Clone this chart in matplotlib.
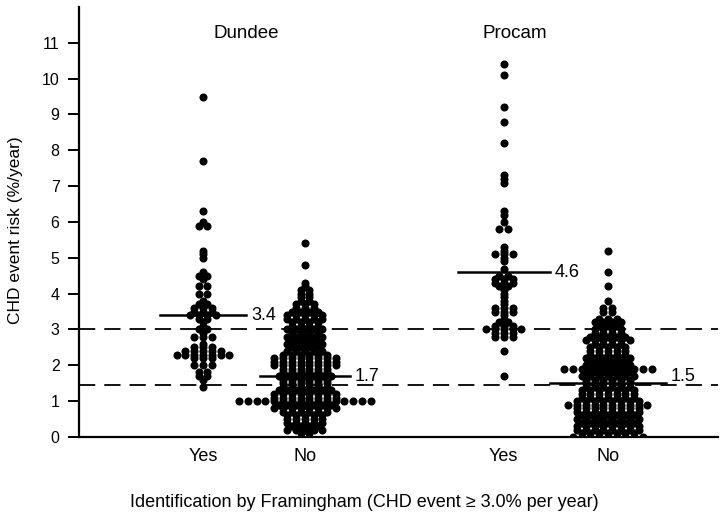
import numpy as np
import matplotlib
matplotlib.use("Agg")
import matplotlib.pyplot as plt

plt.rcParams['font.family'] = ['Liberation Sans', 'DejaVu Sans']

# Données : niveaux de risque (%/an) et nombre de points par niveau
dundee_yes_levels = [9.5, 7.7, 6.3, 6.0, 5.9, 5.2, 5.1, 5.0, 4.6, 4.5, 4.4, 4.2, 4.0, 3.8, 3.7,
                     3.6, 3.5, 3.4, 3.3, 3.2, 3.1, 3.0, 2.9, 2.8, 2.6, 2.5, 2.4, 2.3, 2.2, 2.0,
                     1.8, 1.7, 1.6, 1.4]
dundee_yes_counts = [1, 1, 1, 1, 2, 1, 1, 1, 1, 2, 1, 2, 2, 1, 2,
                     3, 3, 4, 2, 1, 1, 2, 1, 3, 1, 3, 5, 7, 3, 3,
                     2, 2, 1, 1]

dundee_no_levels = [5.4, 4.8, 4.3, 4.2, 4.1, 4.0, 3.9, 3.8, 3.7, 3.6, 3.5, 3.4, 3.3, 3.2, 3.1,
                    3.0, 2.9, 2.8, 2.7, 2.6, 2.5, 2.4, 2.3, 2.2, 2.1, 2.0, 1.9, 1.8, 1.7, 1.6,
                    1.5, 1.4, 1.3, 1.2, 1.1, 1.0, 0.9, 0.8, 0.7, 0.6, 0.5, 0.4, 0.3, 0.2, 0.1]
dundee_no_counts = [1, 1, 1, 1, 2, 2, 2, 2, 3, 3, 4, 5, 5, 4, 4,
                    5, 4, 5, 4, 5, 4, 5, 6, 8, 8, 8, 6, 6, 7, 6,
                    6, 6, 7, 8, 8, 16, 7, 8, 6, 5, 5, 5, 4, 5, 2]

procam_yes_levels = [10.4, 10.1, 9.2, 8.8, 8.2, 7.3, 7.2, 7.1, 6.3, 6.2, 6.0, 5.8, 5.3, 5.2, 5.1,
                     5.0, 4.9, 4.7, 4.5, 4.4, 4.3, 4.2, 4.1, 4.0, 3.9, 3.8, 3.7, 3.6, 3.5, 3.4,
                     3.3, 3.2, 3.1, 3.0, 2.9, 2.8, 2.4, 1.7]
procam_yes_counts = [1, 1, 1, 1, 1, 1, 1, 1, 1, 1, 1, 2, 1, 1, 3,
                     1, 1, 1, 2, 3, 3, 2, 1, 1, 1, 1, 1, 3, 3, 1,
                     1, 2, 3, 5, 3, 3, 1, 1]

procam_no_levels = [5.2, 4.6, 4.2, 3.8, 3.6, 3.5, 3.3, 3.2, 3.1, 3.0, 2.9, 2.8, 2.7, 2.6, 2.5,
                    2.4, 2.3, 2.2, 2.1, 2.0, 1.9, 1.8, 1.7, 1.6, 1.5, 1.4, 1.3, 1.2, 1.1, 1.0,
                    0.9, 0.8, 0.7, 0.6, 0.5, 0.4, 0.3, 0.2, 0.1, 0.0]
procam_no_counts = [1, 1, 1, 1, 2, 2, 3, 4, 3, 4, 4, 5, 6, 4, 5,
                    5, 5, 6, 5, 6, 11, 6, 7, 6, 6, 6, 7, 7, 7, 8,
                    10, 8, 8, 7, 8, 7, 8, 8, 7, 9]

group_means = [3.4, 1.7, 4.6, 1.5]
group_labels = ["Yes", "No", "Yes", "No"]
study_names = ["Dundee", "Procam"]
seuils = [3.0, 1.45]

groupes = [(dundee_yes_levels, dundee_yes_counts),
           (dundee_no_levels, dundee_no_counts),
           (procam_yes_levels, procam_yes_counts),
           (procam_no_levels, procam_no_counts)]

positions = [1.0, 2.0, 3.95, 4.97]
demi_largeur = [0.42, 0.44, 0.45, 0.57]
decal_texte = [0.0, 0.0, 0.0, 0.2]
pas = 0.086

fig = plt.figure(figsize=(7.2, 5.3), dpi=100)
ax = fig.add_axes([0.1097, 0.1755, 0.8873, 0.8113])

for pos, (niveaux, nombres) in zip(positions, groupes):
    xs, ys = [], []
    for v, n in zip(niveaux, nombres):
        dx = (np.arange(n) - (n - 1) / 2) * pas
        xs.extend(pos + dx)
        ys.extend([v] * n)
    ax.plot(xs, ys, 'o', color='black', ms=5.8, mew=0, zorder=3)

for s in seuils:
    ax.axhline(s, color='black', lw=1.3, dashes=(9, 5), zorder=2)

for pos, m, hw, dt in zip(positions, group_means, demi_largeur, decal_texte):
    ax.plot([pos - hw, pos + hw], [m, m], color='black', lw=1.8, zorder=4)
    ax.text(pos + hw + 0.05, m + dt, "{:.1f}".format(m), fontsize=13,
            va='center', ha='left')

ax.text(1.42, 11.27, study_names[0], fontsize=13.5, ha='center', va='center')
ax.text(4.06, 11.27, study_names[1], fontsize=13.5, ha='center', va='center')

ax.set_xlim(-0.216, 6.049)
ax.set_ylim(0, 12)
ax.set_yticks(range(0, 12))
ax.set_xticks(positions)
ax.set_xticklabels(group_labels)
ax.tick_params(axis='y', direction='out', length=8, width=1.4, labelsize=11.5, pad=6)
ax.tick_params(axis='x', length=0, labelsize=13, pad=8)

for c in ['top', 'right']:
    ax.spines[c].set_visible(False)
for c in ['left', 'bottom']:
    ax.spines[c].set_linewidth(1.6)

ax.set_ylabel("CHD event risk (%/year)", fontsize=12.5)
ax.yaxis.set_label_coords(-0.088, 0.48)
ax.set_xlabel("Identification by Framingham (CHD event \u2265 3.0% per year)", fontsize=13)
ax.xaxis.set_label_coords(0.446, -0.132)

fig.savefig("out.png", dpi=100)
